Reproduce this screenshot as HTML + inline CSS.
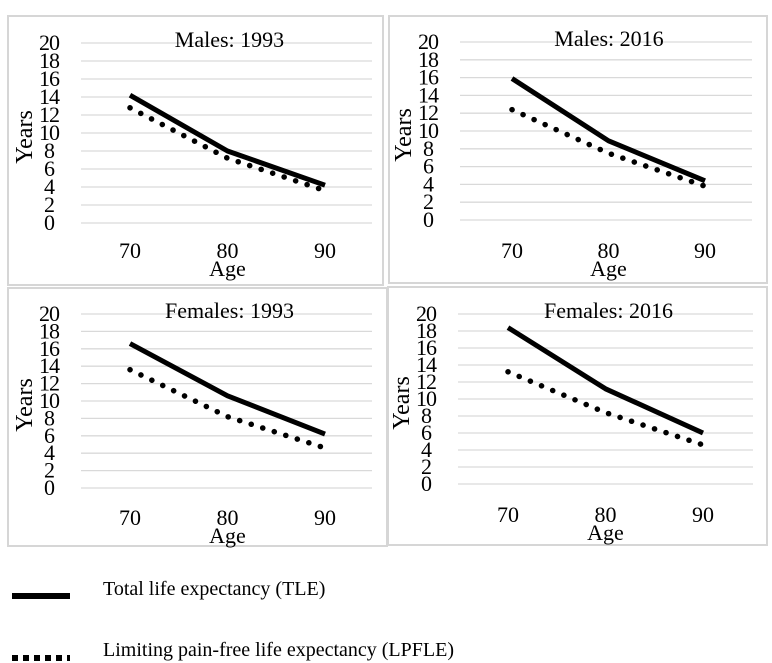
<!DOCTYPE html>
<html><head><meta charset="utf-8"><style>
body{margin:0;background:#fff;width:772px;height:663px;overflow:hidden}
svg{display:block;font-family:"Liberation Serif",serif}
</style></head><body>
<svg id="c" width="772" height="663"></svg>
<script>
const ages=[70,80,90];
const yTicks=[0,2,4,6,8,10,12,14,16,18,20];
const titles=["Males: 1993","Males: 2016","Females: 1993","Females: 2016"];
const tleM1993=[14.2,8.0,4.2];
const lpfleM1993=[12.8,7.2,3.6];
const tleM2016=[15.9,8.9,4.4];
const lpfleM2016=[12.4,7.5,3.8];
const tleF1993=[16.6,10.6,6.2];
const lpfleF1993=[13.6,8.2,4.6];
const tleF2016=[18.4,11.2,6.0];
const lpfleF2016=[13.2,8.4,4.6];
const tleAll=[tleM1993,tleM2016,tleF1993,tleF2016];
const lpfleAll=[lpfleM1993,lpfleM2016,lpfleF1993,lpfleF2016];
const panels=[
 {bx:8,by:16,bw:375,bh:269,gx0:81,gx1:372,y20:43,y0:223,x70:130,x90:325,tl:258},
 {bx:389,by:16,bw:378,bh:267,gx0:460,gx1:752,y20:42,y0:220,x70:512,x90:705,tl:258},
 {bx:8,by:288,bw:379,bh:258,gx0:81,gx1:372,y20:314,y0:488,x70:130,x90:325,tl:525},
 {bx:388,by:287,bw:379,bh:258,gx0:458,gx1:753,y20:314,y0:484,x70:508,x90:703,tl:522}
];
const NS="http://www.w3.org/2000/svg";
const svg=document.getElementById('c');
function mk(t,a,p){const e=document.createElementNS(NS,t);for(const k in a)e.setAttribute(k,a[k]);(p||svg).appendChild(e);return e;}
panels.forEach((p,i)=>{
 const g=mk('g',{});
 
 
 const ys=v=>p.y0+(p.y20-p.y0)*v/20;
 const xs=a=>p.x70+(p.x90-p.x70)*(a-70)/20;
 const box=mk('rect',{x:p.bx,y:p.by,width:p.bw,height:p.bh,fill:'none',stroke:'#d6d6d6','stroke-width':2},g);
 
 
 yTicks.forEach(v=>{
  const l=mk('line',{x1:p.gx0,x2:p.gx1,y1:ys(v),y2:ys(v),stroke:'#d9d9d9','stroke-width':1.3},g);
  
  
  const t=mk('text',{x:p.gx0-32,y:ys(v)+7,'text-anchor':'middle','font-size':22,'letter-spacing':-1},g);
  t.textContent=v;
  
  
 });
 ages.forEach(a=>{
  const t=mk('text',{x:xs(a),y:p.tl,'text-anchor':'middle','font-size':22},g);
  t.textContent=a;
  
  
 });
 const ti=mk('text',{x:(p.gx0+p.gx1)/2+3,y:p.y20+4,'text-anchor':'middle','font-size':22},g);
 ti.textContent=titles[i];
 
 
 const ax=mk('text',{x:xs(80),y:p.tl+18,'text-anchor':'middle','font-size':22},g);
 ax.textContent='Age';
 
 
 const cy=(p.y0+p.y20)/2+4;
 const ay=mk('text',{x:0,y:0,'text-anchor':'middle','font-size':24,transform:`translate(${p.gx0-49},${cy}) rotate(-90)`},g);
 ay.textContent='Years';
 
 
 const lp=mk('polyline',{points:lpfleAll[i].map((v,j)=>xs(ages[j])+','+ys(v)).join(' '),fill:'none',stroke:'#000','stroke-width':5.5,'stroke-dasharray':'0.1 12','stroke-linecap':'round'},g);
 
 
 const tl=mk('polyline',{points:tleAll[i].map((v,j)=>xs(ages[j])+','+ys(v)).join(' '),fill:'none',stroke:'#000','stroke-width':5,'stroke-linejoin':'round'},g);
 
 
});
const lg=mk('g',{});


const l1=mk('line',{x1:12,x2:70,y1:596,y2:596,stroke:'#000','stroke-width':6},lg);


const t1=mk('text',{x:103,y:595,'font-size':20},lg);
t1.textContent='Total life expectancy (TLE)';


const l2=mk('line',{x1:12,x2:70,y1:658,y2:658,stroke:'#000','stroke-width':6,'stroke-dasharray':'6 5'},lg);


const t2=mk('text',{x:103,y:656,'font-size':20},lg);
t2.textContent='Limiting pain-free life expectancy (LPFLE)';


</script>
</body></html>
